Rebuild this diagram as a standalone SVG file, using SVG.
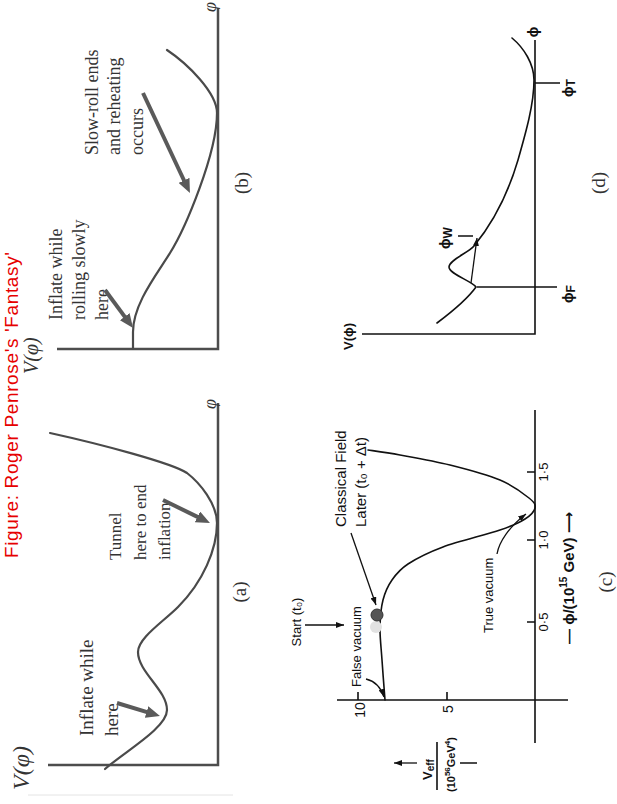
<svg xmlns="http://www.w3.org/2000/svg" width="617" height="804" viewBox="0 0 617 804">
<defs>
<style>
.ax-g{stroke:#4d4d4d;stroke-width:2.5;fill:none}
.cv-g{stroke:#4a4a4a;stroke-width:2.2;fill:none;stroke-linecap:round}
.arr-g{stroke:#5a5a5a;stroke-width:4;fill:none;marker-end:url(#hg)}
.ax-k{stroke:#111;stroke-width:1.6;fill:none}
.cv-k{stroke:#111;stroke-width:1.6;fill:none;stroke-linecap:round}
.arr-k{stroke:#111;stroke-width:1.3;fill:none;marker-end:url(#hk)}
.serif{font-family:"Liberation Serif","Times New Roman",serif;fill:#333}
.it{font-style:italic}
.sans{font-family:"Liberation Sans","DejaVu Sans",Arial,sans-serif;fill:#111}
.title{font-family:"Liberation Sans",Arial,sans-serif;fill:#e60000;font-size:19px}
</style>
<marker id="hg" viewBox="0 0 14 12" refX="4" refY="6" markerWidth="14" markerHeight="12" markerUnits="userSpaceOnUse" orient="auto"><path d="M0,0 L14,6 L0,12 z" fill="#5a5a5a"/></marker>
<marker id="hk" viewBox="0 0 8 6" refX="8" refY="3" markerWidth="8" markerHeight="6" markerUnits="userSpaceOnUse" orient="auto"><path d="M0,0 L8,3 L0,6 z" fill="#111"/></marker>
</defs>
<rect width="617" height="804" fill="#fff"/>
<g transform="translate(0,804) rotate(-90)">
  <g id="title"><text class="title" x="399" y="18" text-anchor="middle" textLength="306" lengthAdjust="spacing">Figure: Roger Penrose's 'Fantasy'</text></g>
  <g id="border"><path d="M9,28 L9,233" stroke="#e4e4e4" stroke-width="1" fill="none"/></g>

  <g id="panel-a">
    <path class="ax-g" d="M39,48 L39,218 L401,218"/>
    <path class="cv-g" d="M35,105 C52,124 76,167 94,167 C114,167 132,138 152,138 C166,138 182,163 197,178 C222,203 255,217 281,217 C300,217 321,200 331,187 C341,172 360,100 371,50"/>
    <text class="serif it" x="14" y="29" font-size="24">V(φ)</text>
    <text class="serif it" x="400" y="216" font-size="18" text-anchor="middle">φ</text>
    <text class="serif" x="68" y="93" font-size="19">Inflate while</text>
    <text class="serif" x="68" y="118" font-size="19">here</text>
    <text class="serif" x="244" y="121" font-size="17">Tunnel</text>
    <text class="serif" x="244" y="146" font-size="17">here to end</text>
    <text class="serif" x="244" y="170" font-size="17">inflation</text>
    <text class="serif" x="212" y="246" font-size="19" text-anchor="middle">(a)</text>
  </g>

  <g id="panel-b">
    <path class="ax-g" d="M455,57 L455,218 L796,218"/>
    <path class="cv-g" d="M455,133 L472,133 C500,133 530,157 551,170 C575,185 650,217 691,217 C711,217 740,188 754,167"/>
    <text class="serif it" x="430" y="38" font-size="20">V(φ)</text>
    <text class="serif it" x="797" y="216" font-size="18" text-anchor="middle">φ</text>
    <text class="serif" x="484" y="62" font-size="18">Inflate while</text>
    <text class="serif" x="484" y="85" font-size="18">rolling slowly</text>
    <text class="serif" x="484" y="108" font-size="18">here</text>
    <text class="serif" x="649" y="98" font-size="18">Slow-roll ends</text>
    <text class="serif" x="649" y="120" font-size="18">and reheating</text>
    <text class="serif" x="649" y="143" font-size="18">occurs</text>
    <text class="serif" x="621" y="248" font-size="19" text-anchor="middle">(b)</text>
  </g>

  <g id="panel-c">
    <path class="ax-k" d="M104,337 L104,568 M61,535 L394,535"/>
    <path class="ax-k" d="M104,358 L112,358 M104,447 L112,447 M182,527 L182,535 M264,527 L264,535 M332,527 L332,535"/>
    <path class="cv-k" d="M104,385 C110.7,384.5 131.8,382.8 144,382 C156.2,381.2 167,379.8 177,380 C187,380.2 196.2,381 204,383 C211.8,385 218,387.8 224,392 C230,396.2 234.5,399.5 240,408 C245.5,416.5 251.3,427.7 257,443 C262.7,458.3 269.3,486.3 274,500 C278.7,513.7 281.3,519.2 285,525 C288.7,530.8 292.5,534.3 296,535 C299.5,535.7 301.3,534.8 306,529 C310.7,523.2 318.5,513.2 324,500 C329.5,486.8 334.8,466.7 339,450 C343.2,433.3 346.5,413.7 349,400 C351.5,386.3 353.2,373.3 354,368"/>
    <circle cx="177" cy="376" r="6" fill="#e2e2e2"/>
    <circle cx="189" cy="377" r="6" fill="#555" stroke="#333" stroke-width="1"/>
    <text class="sans" x="94" y="365" font-size="14" text-anchor="middle">10</text>
    <text class="sans" x="95" y="453" font-size="14" text-anchor="middle">5</text>
    <text class="sans" x="182" y="548" font-size="13" text-anchor="middle">0·5</text>
    <text class="sans" x="264" y="548" font-size="13" text-anchor="middle">1·0</text>
    <text class="sans" x="332" y="548" font-size="13" text-anchor="middle">1·5</text>
    <text class="sans" x="117" y="361" font-size="13">False vacuum</text>
    <text class="sans" x="182" y="301" font-size="13" text-anchor="middle">Start (t₀)</text>
    <text class="sans" x="277" y="346" font-size="15">Classical Field</text>
    <text class="sans" x="277" y="366" font-size="15">Later (t₀ + Δt)</text>
    <text class="sans" x="171" y="493" font-size="13">True vacuum</text>
    <text class="sans" x="160" y="574" font-size="15" font-weight="bold">— ϕ/(10<tspan font-size="10" dy="-7">15</tspan><tspan dy="7"> GeV) ⟶</tspan></text>
    <text class="sans" x="24" y="432" font-size="13" font-weight="bold">V<tspan font-size="10" dy="2">eff</tspan></text>
    <path class="ax-k" d="M14,437 L62,437 M41,460 L41,477" stroke-width="1.4"/>
    <text class="sans" x="12" y="455" font-size="11" font-weight="bold">(10<tspan font-size="8" dy="-5">56</tspan><tspan dy="5">GeV</tspan><tspan font-size="8" dy="-5">4</tspan><tspan dy="5">)</tspan></text>
    <text class="serif" x="222" y="612" font-size="19" text-anchor="middle">(c)</text>
  </g>

  <g id="panel-d">
    <path class="ax-k" d="M470,362 L470,535 L764,535"/>
    <path class="cv-k" d="M481,437 C490,449 503,466 517,476 C523,472 530,449 537,449 C544,449 551,468 558,474 C580,492 610,508 644,518 C672,526 700,534 724,534 C740,534 756,524 766,512"/>
    <path class="ax-k" d="M517,477 L517,557 M568,458 L568,473 M721,535 L721,560" stroke-width="1.2"/>
    <text class="sans" x="454" y="353" font-size="13" font-weight="bold">V(ϕ)</text>
    <text class="sans" x="772" y="538" font-size="14" font-weight="bold" text-anchor="middle">ϕ</text>
    <text class="sans" x="555" y="450" font-size="14" font-weight="bold">ϕ<tspan font-size="12" dy="2">W</tspan></text>
    <text class="sans" x="501" y="573" font-size="14" font-weight="bold">ϕ<tspan font-size="12" dy="2">F</tspan></text>
    <text class="sans" x="707" y="573" font-size="14" font-weight="bold">ϕ<tspan font-size="12" dy="2">T</tspan></text>
    <text class="serif" x="621" y="605" font-size="19" text-anchor="middle">(d)</text>
  </g>

  <g id="connectors">
    <path class="arr-g" d="M101,117 L90.9,150.4"/>
    <path class="arr-g" d="M304,163 L285.4,201"/>
    <path class="arr-g" d="M514,105 L484.1,127.1"/>
    <path class="arr-g" d="M711,143 L620,185.7"/>
    <path class="arr-k" d="M41,417 L41,394"/>
    <path class="arr-k" d="M179,305 L179,344"/>
    <path class="arr-k" d="M271,351 L199,376"/>
    <path class="arr-k" d="M125,366 Q122,379 107,384"/>
    <path class="arr-k" d="M250,497 C262,499 277,509 290,526"/>
    <path class="arr-k" d="M521,471 L566,477"/>
  </g>
</g>
</svg>
